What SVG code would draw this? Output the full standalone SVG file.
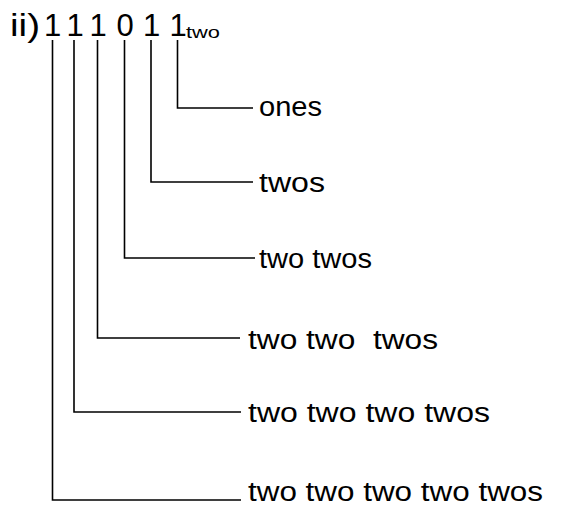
<svg xmlns="http://www.w3.org/2000/svg" width="584" height="508" viewBox="0 0 584 508">
<style>
.num{font-family:"Liberation Sans","DejaVu Sans",sans-serif;font-size:31px;fill:#000}
.sub{font-family:"Liberation Sans","DejaVu Sans",sans-serif;font-size:17px;fill:#000}
.lbl{font-family:"Liberation Sans","DejaVu Sans",sans-serif;font-size:27px;fill:#000}
.conn{fill:none;stroke:#000;stroke-width:1.6}
</style>
<rect width="584" height="508" fill="#fff"/>
<g id="number">
<text class="num" x="10" y="36" textLength="30" lengthAdjust="spacingAndGlyphs">ii)</text>
<text class="num" x="52.5" y="36" text-anchor="middle">1</text>
<text class="num" x="75" y="36" text-anchor="middle">1</text>
<text class="num" x="98" y="36" text-anchor="middle">1</text>
<text class="num" x="125" y="36" text-anchor="middle">0</text>
<text class="num" x="151.5" y="36" text-anchor="middle">1</text>
<text class="num" x="178" y="36" text-anchor="middle">1</text>
<text class="sub" x="186" y="38" textLength="34" lengthAdjust="spacingAndGlyphs">two</text>
</g>
<g id="connectors">
<path class="conn" d="M177.5 40 V108 H253"/>
<path class="conn" d="M151 40 V182 H253"/>
<path class="conn" d="M124.5 40 V258 H255"/>
<path class="conn" d="M97.5 40 V338 H240"/>
<path class="conn" d="M74 40 V412 H241"/>
<path class="conn" d="M52.5 40 V500 H241"/>
</g>
<g id="label-ones"><text class="lbl" x="259" y="116" textLength="63" lengthAdjust="spacingAndGlyphs">ones</text></g>
<g id="label-twos"><text class="lbl" x="259" y="192" textLength="66" lengthAdjust="spacingAndGlyphs">twos</text></g>
<g id="label-two-twos"><text class="lbl" x="259" y="268" textLength="113" lengthAdjust="spacingAndGlyphs">two twos</text></g>
<g id="label-two-two-twos"><text class="lbl" x="248" y="349" textLength="190" lengthAdjust="spacingAndGlyphs" xml:space="preserve">two two  twos</text></g>
<g id="label-two-two-two-twos"><text class="lbl" x="248" y="422" textLength="242" lengthAdjust="spacingAndGlyphs">two two two twos</text></g>
<g id="label-two-two-two-two-twos"><text class="lbl" x="248" y="501" textLength="295" lengthAdjust="spacingAndGlyphs">two two two two twos</text></g>
</svg>
